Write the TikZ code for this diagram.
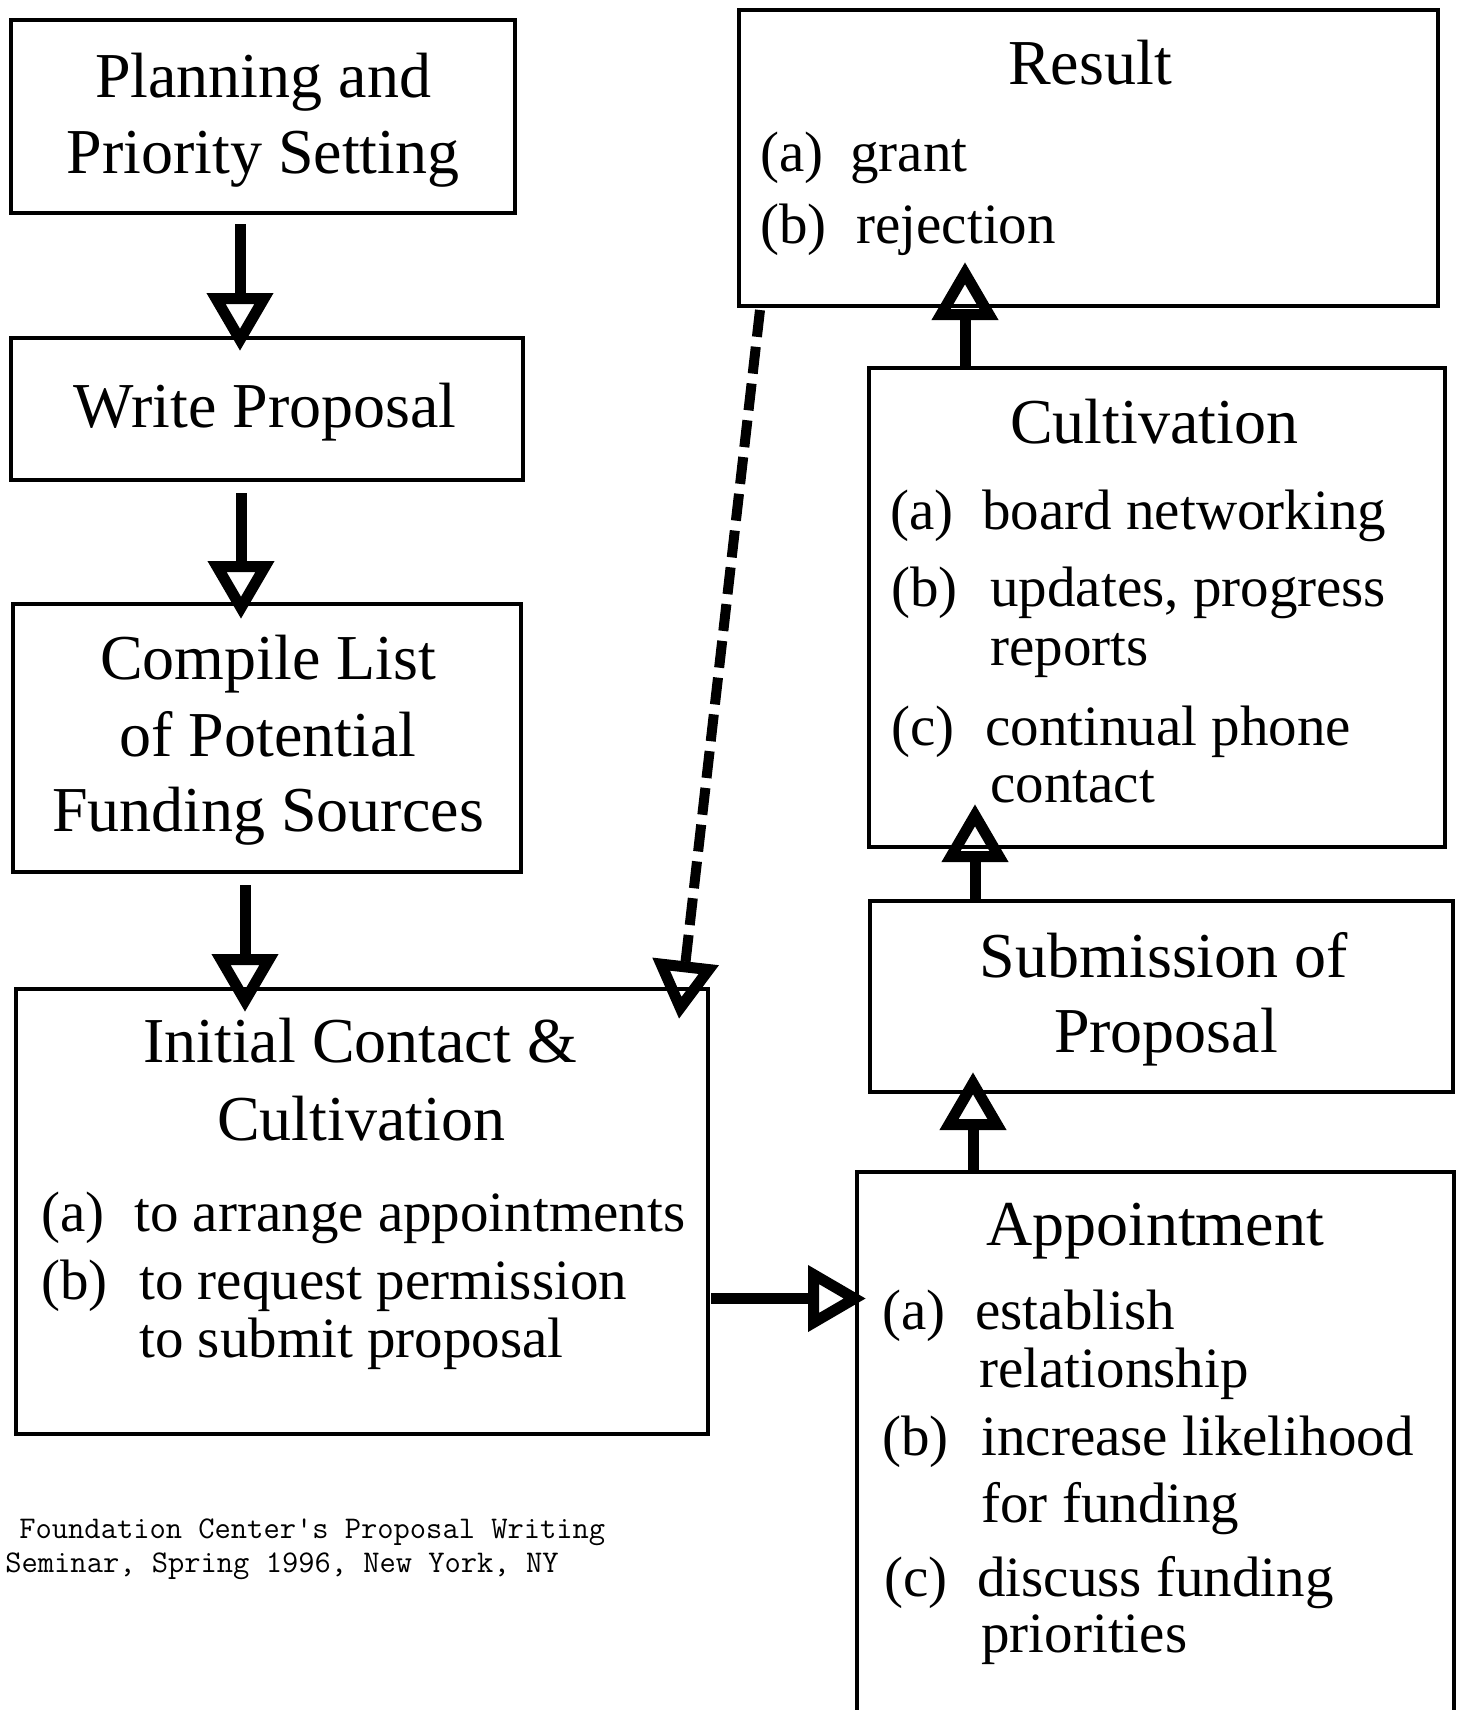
\documentclass[tikz,border=0pt]{standalone}
\usepackage{fontspec}
\setmainfont{Liberation Serif}
\usetikzlibrary{arrows.meta,calc,fit}
\begin{document}
\begin{tikzpicture}[x=0.5pt,y=-0.5pt,
  box/.style={draw,line width=2.4pt,inner sep=0pt,outer sep=0pt},
  ttl/.style={font=\fontsize{32}{38}\selectfont,anchor=base,inner sep=0pt},
  itm/.style={font=\fontsize{28.5}{34}\selectfont,anchor=base west,inner sep=0pt},
  note/.style={font=\ttfamily\fontsize{15.8}{18}\selectfont,anchor=base west,inner sep=0pt},
  tipo/.tip={Triangle[open,length=29pt,width=32pt,line width=5.5pt]},
  flow/.style={line width=5.5pt,-tipo},
  dflow/.style={line width=5pt,dash pattern=on 13.5pt off 5pt,-tipo}
]
\useasboundingbox (0,0) rectangle (1459,1710);
\fill[white] (0,0) rectangle (1459,1710);

% ---------- left column boxes ----------
\node[box,fit={(11,20) (515,213)}] (b1) {};
\node[ttl] (t1a) at (263,97) {Planning and};
\node[ttl] (t1b) at (263,173) {Priority Setting};

\node[box,fit={(11,338) (523,480)}] (b2) {};
\node[ttl] (t2) at (265,427) {Write Proposal};

\node[box,fit={(13,604) (521,872)}] (b3) {};
\node[ttl] (t3a) at (268,679) {Compile List};
\node[ttl] (t3b) at (268,756) {of Potential};
\node[ttl] (t3c) at (268,831) {Funding Sources};

\node[box,fit={(16,989) (708,1434)}] (b4) {};
\node[ttl] (t4a) at (360,1062) {Initial Contact \&};
\node[ttl] (t4b) at (361,1140) {Cultivation};
\node[itm] (t4c) at (41,1231) {(a)};
\node[itm] (t4d) at (134,1231) {to arrange appointments};
\node[itm] (t4e) at (41,1299) {(b)};
\node[itm] (t4f) at (139,1299) {to request permission};
\node[itm] (t4g) at (139,1357) {to submit proposal};

% ---------- right column boxes ----------
\node[box,fit={(739,10) (1438,306)}] (res) {};
\node[ttl] (r1) at (1090,84) {Result};
\node[itm] (r2) at (760,171) {(a)};
\node[itm] (r3) at (850,171) {grant};
\node[itm] (r4) at (760,243) {(b)};
\node[itm] (r5) at (856,243) {rejection};

\node[box,fit={(869,368) (1445,847)}] (cul) {};
\node[ttl] (c1) at (1154,443) {Cultivation};
\node[itm] (c2) at (890,529) {(a)};
\node[itm] (c3) at (982,529) {board networking};
\node[itm] (c4) at (891,606) {(b)};
\node[itm] (c5) at (990,606) {updates, progress};
\node[itm] (c6) at (990,665) {reports};
\node[itm] (c7) at (891,745) {(c)};
\node[itm] (c8) at (985,745) {continual phone};
\node[itm] (c9) at (990,802) {contact};

\node[box,fit={(870,901) (1453,1092)}] (sub) {};
\node[ttl] (s1) at (1164,977) {Submission of};
\node[ttl] (s2) at (1166,1052) {Proposal};

\node[box,fit={(857,1172) (1454,1780)}] (app) {};
\node[ttl] (p1) at (1155,1245) {Appointment};
\node[itm] (p2) at (882,1329) {(a)};
\node[itm] (p3) at (975,1329) {establish};
\node[itm] (p4) at (979,1387) {relationship};
\node[itm] (p5) at (882,1455) {(b)};
\node[itm] (p6) at (981,1455) {increase likelihood};
\node[itm] (p7) at (981,1522) {for funding};
\node[itm] (p8) at (884,1596) {(c)};
\node[itm] (p9) at (977,1596) {discuss funding};
\node[itm] (p10) at (981,1652) {priorities};

% ---------- footnote ----------
\node[note] (n1) at (19,1538) {Foundation Center's Proposal Writing};
\node[note] (n2) at (5,1572) {Seminar, Spring 1996, New York, NY};

% ---------- connectors ----------
\draw[flow] ($(b1.south)+(-23,11)$) -- ($(b2.north)+(-27,13)$);
\draw[flow] ($(b2.south)+(-26,13)$) -- ($(b3.north)+(-26,15)$);
\draw[flow] ($(b3.south)+(-22,13)$) -- ($(b4.north)+(-117,23)$);
\coordinate (h1) at ($(b4.east)+(3,87)$);
\draw[flow] (h1) -- ($(h1 -| app.west)+(9,0)$);
\draw[flow] ($(app.north)+(-182.5,0)$) -- ($(sub.south)+(-188.5,-20)$);
\draw[flow] ($(sub.north)+(-186.5,0)$) -- ($(cul.south)+(-182,-43)$);
\draw[flow] ($(cul.north)+(-192,0)$) -- ($(res.south)+(-123.5,-44)$);
\draw[dflow] ($(res.south west)+(21,4)$) -- ($(b4.north east)+(-29,30)$);
\end{tikzpicture}
\end{document}
